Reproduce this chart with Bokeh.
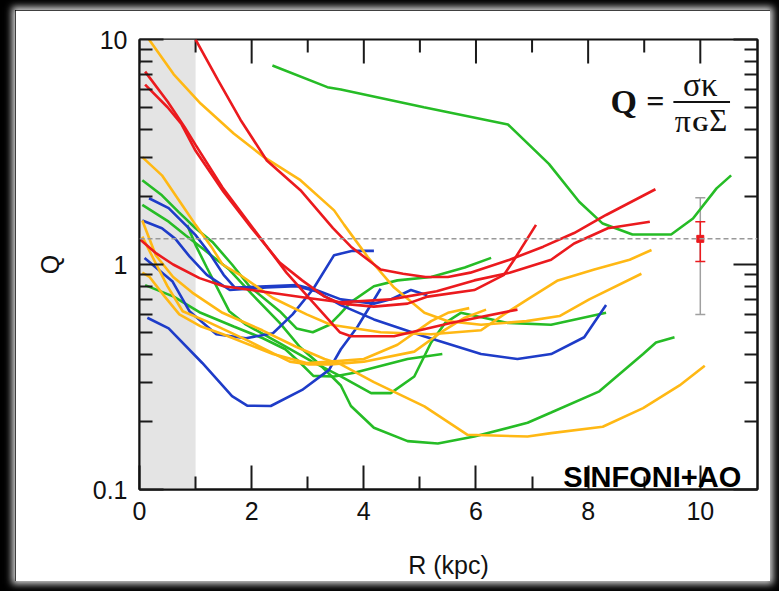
from bokeh.plotting import figure
from bokeh.models import (Range1d, FixedTicker, LogAxis, BoxAnnotation, Span,
                          Label, Whisker, TeeHead, ColumnDataSource, NumeralTickFormatter)
from bokeh.layouts import column
from bokeh.embed import file_html
from bokeh.resources import INLINE

# ---- radial Toomre-Q profiles, R in kpc ----
red_1_r = [1.0, 1.4, 1.8, 2.27, 2.87, 3.45, 3.77, 4.3, 4.7, 5.1, 5.5, 5.9, 6.6, 7.2, 7.75, 8.32, 9.2]
red_1_q = [10.0, 6.6, 4.4, 2.9, 2.14, 1.45, 1.2, 0.95, 0.91, 0.88, 0.88, 0.92, 1.05, 1.2, 1.38, 1.66, 2.16]
red_2_r = [0.1, 0.5, 0.8, 1.0, 1.48, 2.07, 2.62, 3.09, 3.57, 3.77, 4.54, 5.55, 6.74]
red_2_q = [7.2, 5.3, 4.1, 3.4, 2.2, 1.4, 0.92, 0.68, 0.50, 0.48, 0.48, 0.55, 0.63]
red_3_r = [0.1, 0.5, 0.75, 1.0, 1.5, 2.0, 2.5, 2.9, 3.3, 3.6, 4.18, 4.78, 5.14, 5.97, 6.5, 6.68, 7.07]
red_3_q = [6.3, 5.0, 4.2, 3.2, 2.1, 1.45, 1.02, 0.85, 0.72, 0.67, 0.65, 0.67, 0.72, 0.77, 0.9, 1.05, 1.5]
red_4_r = [0.0, 0.3, 0.6, 1.07, 1.5, 2.0, 2.5, 3.0, 3.59, 4.48, 5.3, 5.97, 6.6, 7.34, 7.75, 8.35, 9.1]
red_4_q = [1.3, 1.12, 1.0, 0.87, 0.8, 0.77, 0.74, 0.71, 0.68, 0.70, 0.76, 0.85, 0.92, 1.05, 1.24, 1.45, 1.55]

blue_1_r = [0.14, 0.52, 1.12, 1.65, 1.92, 2.34, 2.9, 3.38, 3.59, 3.89, 4.3]
blue_1_q = [0.58, 0.52, 0.365, 0.26, 0.236, 0.235, 0.277, 0.34, 0.42, 0.53, 0.78]
blue_2_r = [0.05, 0.4, 0.64, 0.9, 1.2, 1.61, 2.26, 2.8, 3.15, 3.59, 4.18, 5.07, 6.09, 6.74, 7.34, 7.93, 8.32]
blue_2_q = [1.57, 1.45, 1.3, 1.08, 0.9, 0.77, 0.79, 0.80, 0.76, 0.66, 0.57, 0.48, 0.40, 0.38, 0.40, 0.475, 0.66]
blue_3_r = [0.17, 0.52, 0.82, 1.0, 1.23, 1.5, 1.7, 2.26, 2.8, 3.15, 3.59, 4.18, 4.48, 4.84, 5.13]
blue_3_q = [1.97, 1.78, 1.5, 1.35, 1.14, 0.9, 0.79, 0.80, 0.81, 0.77, 0.70, 0.67, 0.70, 0.77, 0.73]
blue_4_r = [0.09, 0.59, 0.89, 1.37, 1.9, 2.38, 2.73, 3.1, 3.47, 3.8, 4.18]
blue_4_q = [1.07, 0.84, 0.62, 0.49, 0.47, 0.495, 0.6, 0.78, 1.1, 1.15, 1.15]

green_1_r = [2.37, 3.35, 3.59, 5.07, 6.57, 7.3, 7.84, 8.26, 8.79, 9.48, 9.87, 10.29, 10.55]
green_1_q = [7.67, 6.14, 6.0, 5.0, 4.19, 2.8, 1.9, 1.52, 1.36, 1.36, 1.6, 2.18, 2.49]
green_2_r = [0.05, 0.4, 0.7, 1.0, 1.3, 1.65, 1.96, 2.5, 2.8, 3.09, 3.39, 3.57, 3.77, 4.18, 4.6, 5.2, 5.8, 6.27]
green_2_q = [2.37, 2.03, 1.71, 1.45, 1.26, 1.0, 0.80, 0.62, 0.52, 0.50, 0.54, 0.60, 0.68, 0.80, 0.85, 0.88, 0.97, 1.07]
green_3_r = [0.05, 0.52, 0.82, 1.12, 1.6, 2.0, 2.5, 2.86, 3.21, 3.59, 3.77, 4.18, 4.78, 5.32, 5.97, 6.92, 7.34, 8.2, 8.98, 9.21, 9.54]
green_3_q = [1.84, 1.55, 1.35, 1.18, 0.95, 0.74, 0.55, 0.43, 0.36, 0.29, 0.235, 0.188, 0.164, 0.16, 0.172, 0.198, 0.22, 0.273, 0.40, 0.45, 0.475]
green_4_r = [0.1, 0.61, 1.09, 1.68, 2.2, 2.6, 2.87, 3.1, 3.47, 3.83, 4.78, 5.4]
green_4_q = [0.81, 0.72, 0.61, 0.53, 0.47, 0.42, 0.365, 0.32, 0.318, 0.33, 0.38, 0.40]
green_5_r = [0.85, 1.0, 1.2, 1.6, 1.9, 2.48, 3.08, 3.59, 4.13, 4.48, 4.9, 5.2, 5.45, 5.73, 6.57, 7.34, 8.32]
green_5_q = [1.5, 1.22, 0.97, 0.62, 0.54, 0.45, 0.37, 0.318, 0.268, 0.268, 0.318, 0.45, 0.55, 0.61, 0.55, 0.54, 0.61]

orange_1_r = [0.17, 0.61, 1.09, 1.68, 2.22, 2.87, 3.47, 3.65, 4.07, 4.54, 5.08, 5.5, 6.09, 6.9, 7.49, 8.02, 8.95]
orange_1_q = [10.0, 7.0, 5.19, 3.82, 3.0, 2.37, 1.74, 1.5, 1.08, 0.79, 0.61, 0.56, 0.54, 0.56, 0.59, 0.70, 0.91]
orange_2_r = [0.05, 0.4, 0.76, 1.0, 1.3, 1.48, 1.79, 2.38, 2.98, 3.41, 4.3, 5.2, 6.09, 6.5, 6.92, 7.46, 8.11, 8.74, 9.13]
orange_2_q = [3.0, 2.49, 1.84, 1.5, 1.18, 1.0, 0.90, 0.71, 0.60, 0.54, 0.50, 0.49, 0.51, 0.6, 0.70, 0.85, 0.95, 1.05, 1.16]
orange_3_r = [0.05, 0.29, 0.6, 0.94, 1.48, 2.19, 2.8, 3.3, 3.59, 4.18, 5.08, 5.85, 6.92, 7.34, 8.26, 8.98, 9.63, 10.08]
orange_3_q = [1.57, 1.1, 0.88, 0.75, 0.61, 0.51, 0.43, 0.38, 0.36, 0.30, 0.234, 0.175, 0.172, 0.178, 0.19, 0.23, 0.29, 0.355]
orange_4_r = [0.05, 0.18, 0.45, 0.71, 1.1, 1.49, 2.38, 2.98, 3.41, 4.0, 4.6, 5.2, 5.5, 5.88]
orange_4_q = [0.92, 0.88, 0.72, 0.60, 0.53, 0.49, 0.40, 0.365, 0.37, 0.38, 0.44, 0.56, 0.61, 0.64]
orange_5_r = [0.05, 0.3, 0.5, 0.77, 1.19, 1.96, 2.68, 3.0, 3.41, 4.0, 4.9, 5.38, 5.8, 6.18]
orange_5_q = [1.33, 1.0, 0.8, 0.62, 0.56, 0.455, 0.37, 0.36, 0.36, 0.37, 0.41, 0.50, 0.58, 0.63]

# stability threshold and typical uncertainty
q_crit = 1.3
err_r = [10.0]
err_q = [1.3]
err_sys_lo, err_sys_hi = [0.6], [1.98]
err_stat_lo, err_stat_hi = [1.03], [1.55]

# beam-smeared inner region
beam_r = (0.0, 1.0)

x_major = [0, 2, 4, 6, 8, 10]
x_minor = [1, 3, 5, 7, 9]
y_major = [0.1, 1, 10]
y_minor = [0.2, 0.3, 0.4, 0.5, 0.6, 0.7, 0.8, 0.9, 2, 3, 4, 5, 6, 7, 8, 9]

RED, ORANGE, GREEN, BLUE = "#EB1A1E", "#FFB814", "#26BC26", "#1E3CC8"
TICK = "#1A1A1A"
Q_LO, Q_HI = 0.1, 10.0

p = figure(width=755, height=571, x_range=Range1d(0, 11.02), y_range=Range1d(Q_LO, Q_HI),
           y_axis_type="log", output_backend="svg", toolbar_location=None, title=None,
           min_border_left=124, min_border_right=13, min_border_top=29, min_border_bottom=91,
           background_fill_color="white", border_fill_color="white")
p.margin = (10, 9, 10, 15)
p.styles = {"box-shadow": "0 0 7px 3px rgba(255,255,255,0.85)"}
p.grid.visible = False
p.outline_line_color = "#111111"
p.outline_line_width = 2

xt = FixedTicker(ticks=x_major, minor_ticks=x_minor)
yt = FixedTicker(ticks=y_major, minor_ticks=y_minor)

bottom = p.below[0]
left = p.left[0]
bottom.ticker = xt
left.ticker = yt
left.formatter = NumeralTickFormatter(format="0.[0]")
bottom.axis_label = "R (kpc)"
left.axis_label = "Q"

right = LogAxis(ticker=yt)
p.add_layout(right, "right")

for ax in (bottom, left, right):
    ax.axis_line_color = "#111111"
    ax.axis_line_width = 2
    ax.major_tick_out = 0
    ax.minor_tick_out = 0
    ax.major_tick_in = 24
    ax.minor_tick_in = 13
    ax.major_tick_line_color = TICK
    ax.minor_tick_line_color = TICK
    ax.major_tick_line_width = 2
    ax.minor_tick_line_width = 2
    ax.major_label_text_font = "Liberation Sans"
    ax.major_label_text_font_size = "25px"
    ax.major_label_text_color = "#111111"
    ax.axis_label_text_font = "Liberation Sans"
    ax.axis_label_text_font_style = "normal"
    ax.axis_label_text_font_size = "25px"
    ax.axis_label_text_color = "#111111"
right.major_label_text_font_size = "1px"
right.major_label_text_alpha = 0
right.major_label_standoff = 0
bottom.major_label_standoff = 12
bottom.axis_label_standoff = 28
left.major_label_standoff = 12
left.axis_label_standoff = 26

# tick marks hanging from the upper frame edge (24 px major, 13 px minor on a 225.5 px decade)
top_major_end = Q_HI * 10 ** (-24 / 225.5)
top_minor_end = Q_HI * 10 ** (-13 / 225.5)
p.segment(x0=x_major, x1=x_major, y0=[Q_HI] * len(x_major), y1=[top_major_end] * len(x_major),
          line_color=TICK, line_width=2)
p.segment(x0=x_minor, x1=x_minor, y0=[Q_HI] * len(x_minor), y1=[top_minor_end] * len(x_minor),
          line_color=TICK, line_width=2)

p.add_layout(BoxAnnotation(left=beam_r[0], right=beam_r[1], fill_color="#E4E4E4",
                           fill_alpha=1.0, line_color=None, level="underlay"))
p.add_layout(Span(location=q_crit, dimension="width", line_color="#999999",
                  line_width=1.5, line_dash="5 3"))

profiles = [
    (green_1_r, green_1_q, GREEN), (green_2_r, green_2_q, GREEN), (green_3_r, green_3_q, GREEN),
    (green_4_r, green_4_q, GREEN), (green_5_r, green_5_q, GREEN),
    (blue_1_r, blue_1_q, BLUE), (blue_2_r, blue_2_q, BLUE), (blue_3_r, blue_3_q, BLUE),
    (blue_4_r, blue_4_q, BLUE),
    (orange_1_r, orange_1_q, ORANGE), (orange_2_r, orange_2_q, ORANGE),
    (orange_3_r, orange_3_q, ORANGE), (orange_4_r, orange_4_q, ORANGE),
    (orange_5_r, orange_5_q, ORANGE),
    (red_1_r, red_1_q, RED), (red_2_r, red_2_q, RED), (red_3_r, red_3_q, RED),
    (red_4_r, red_4_q, RED),
]
for r, q, c in profiles:
    p.line(r, q, line_color=c, line_width=2.6)

# error bars: systematic (grey) and statistical (red)
sys_src = ColumnDataSource(dict(base=err_r, lower=err_sys_lo, upper=err_sys_hi))
p.add_layout(Whisker(source=sys_src, base="base", lower="lower", upper="upper",
                     dimension="height", line_color="#A0A0A0", line_width=1.5,
                     upper_head=TeeHead(size=10, line_color="#A0A0A0", line_width=1.5),
                     lower_head=TeeHead(size=10, line_color="#A0A0A0", line_width=1.5)))
stat_src = ColumnDataSource(dict(base=err_r, lower=err_stat_lo, upper=err_stat_hi))
p.add_layout(Whisker(source=stat_src, base="base", lower="lower", upper="upper",
                     dimension="height", line_color=RED, line_width=1.5,
                     upper_head=TeeHead(size=10, line_color=RED, line_width=1.5),
                     lower_head=TeeHead(size=10, line_color=RED, line_width=1.5)))
p.scatter(err_r, err_q, marker="square", size=7, color=RED)

# Toomre criterion written as a fraction
p.add_layout(Label(x=8.40, y=5.31, text="Q", text_font="Liberation Serif", text_font_style="bold",
                   text_font_size="34px", text_align="left", text_baseline="middle", text_color="#111111"))
p.add_layout(Label(x=9.20, y=5.31, text="=", text_font="Liberation Serif", text_font_style="bold",
                   text_font_size="32px", text_align="center", text_baseline="middle", text_color="#111111"))
p.add_layout(Label(x=10.0, y=6.3, text="σκ", text_font="Liberation Serif",
                   text_font_size="33px", text_align="center", text_baseline="middle", text_color="#111111"))
p.add_layout(BoxAnnotation(left=9.52, right=10.53, bottom=5.22, top=5.33,
                           fill_color="#111111", fill_alpha=1.0, line_color=None))
p.add_layout(Label(x=9.69, y=4.35, text="π", text_font="Liberation Serif",
                   text_font_size="32px", text_align="center", text_baseline="middle", text_color="#111111"))
p.add_layout(Label(x=10.0, y=4.2, text="G", text_font="Liberation Serif", text_font_style="bold",
                   text_font_size="21px", text_align="center", text_baseline="middle", text_color="#111111"))
p.add_layout(Label(x=10.32, y=4.35, text="Σ", text_font="Liberation Serif",
                   text_font_size="31px", text_align="center", text_baseline="middle", text_color="#111111"))

p.add_layout(Label(x=10.73, y=0.114, text="SINFONI+AO", text_font="Liberation Sans",
                   text_font_style="bold", text_font_size="29px", text_align="right",
                   text_baseline="alphabetic", text_color="#000000"))

page = column(p, width=779, height=591, styles={"background-color": "#000000"})

with open("out.html", "w") as f:
    f.write(file_html(page, INLINE))
